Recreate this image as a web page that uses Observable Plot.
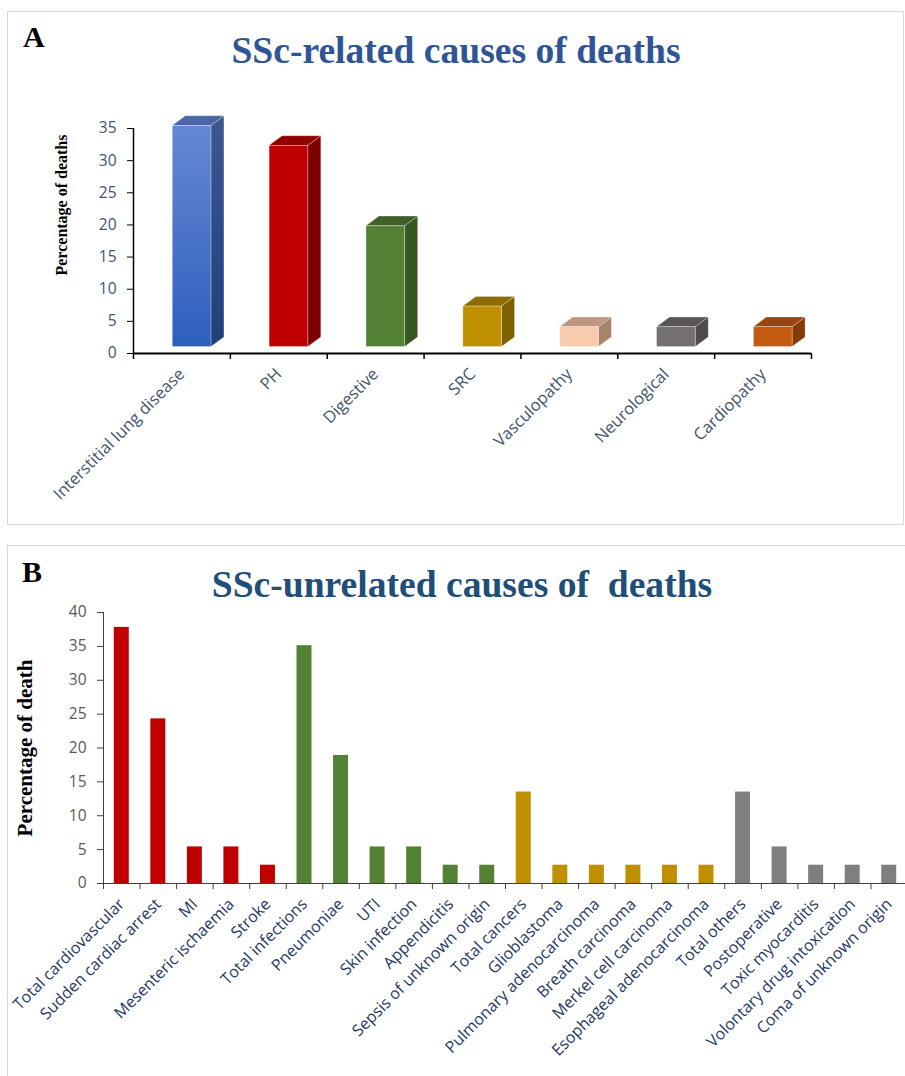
<!DOCTYPE html>
<html><head><meta charset="utf-8">
<script src="https://cdn.jsdelivr.net/npm/d3@7"></script>
<script src="https://cdn.jsdelivr.net/npm/@observablehq/plot@0.6"></script>
<style>
html,body{margin:0;padding:0;background:#fff;}
body{width:905px;height:1076px;overflow:hidden;position:relative;font-family:"Open Sans",sans-serif;}
.panel{position:absolute;box-sizing:border-box;border:1px solid #d9d9d9;}
.abs{position:absolute;white-space:pre;line-height:1;}
.title{font-family:"Liberation Serif","Times New Roman",serif;font-weight:bold;font-size:37.6px;transform:translateX(-50%);}
.letter{font-family:"Liberation Serif","Times New Roman",serif;font-weight:bold;font-size:30px;color:#000;}
.ylab{font-family:"Liberation Serif","Times New Roman",serif;font-weight:bold;color:#000;transform:translate(-50%,-50%) rotate(-90deg);}
.chart{position:absolute;left:0;}
.chart svg{max-width:none !important;overflow:visible;background:transparent !important;}
</style></head><body>
<div class="panel" style="left:7px;top:11px;width:897px;height:514px;"></div>
<div class="panel" style="left:7px;top:545px;width:1000px;height:600px;"></div>
<div class="abs letter" style="left:23px;top:22px;">A</div>
<div class="abs letter" style="left:22px;top:557px;">B</div>
<div class="abs title" style="left:456px;top:32px;color:#2f5597;">SSc-related causes of deaths</div>
<div class="abs title" style="left:462px;top:566px;color:#1f4e79;">SSc-unrelated causes of  deaths</div>
<div class="abs ylab" style="left:62px;top:205px;font-size:16px;">Percentage of deaths</div>
<div class="abs ylab" style="left:25px;top:748px;font-size:21px;">Percentage of death</div>
<div id="chartA" class="chart" style="top:100px;"></div>
<div id="chartB" class="chart" style="top:590px;"></div>
<script>
// ---------- Data: panel A (SSc-related) ----------
const relatedCauses = ["Interstitial lung disease","PH","Digestive","SRC","Vasculopathy","Neurological","Cardiopathy"];
const relatedPct = [34.4, 31.3, 18.8, 6.3, 3.1, 3.1, 3.1];
const relatedTicks = [0, 5, 10, 15, 20, 25, 30, 35];

// ---------- Data: panel B (SSc-unrelated) ----------
const unrelatedCauses = ["Total cardiovascular","Sudden cardiac arrest","MI","Mesenteric ischaemia","Stroke",
  "Total infections","Pneumoniae","UTI","Skin infection","Appendicitis","Sepsis of unknown origin",
  "Total cancers","Glioblastoma","Pulmonary adenocarcinoma","Breath carcinoma","Merkel cell carcinoma","Esophageal adenocarcinoma",
  "Total others","Postoperative","Toxic myocarditis","Volontary drug intoxication","Coma of unknown origin"];
const unrelatedPct = [37.8, 24.3, 5.4, 5.4, 2.7, 35.1, 18.9, 5.4, 5.4, 2.7, 2.7, 13.5, 2.7, 2.7, 2.7, 2.7, 2.7, 13.5, 5.4, 2.7, 2.7, 2.7];
const unrelatedGroup = ["Cardiovascular","Cardiovascular","Cardiovascular","Cardiovascular","Cardiovascular",
  "Infections","Infections","Infections","Infections","Infections","Infections",
  "Cancers","Cancers","Cancers","Cancers","Cancers","Cancers",
  "Others","Others","Others","Others","Others"];
const unrelatedTicks = [0, 5, 10, 15, 20, 25, 30, 35, 40];

// ---------- Styles ----------
const frontFill = ["url(#ildFront)","#c00000","#548235","#bf9000","#f8cbad","#767171","#c55a11"];
const sideFill  = ["url(#ildSide)","#7f0000","#385723","#7f6000","#a6836d","#4f4b4b","#843c0c"];
const topFill   = ["#4a66a6","#900000","#3e6127","#8f6c00","#c09680","#5a5656","#984510"];
const groupColors = {Cardiovascular:"#c00000", Infections:"#548235", Cancers:"#bf9000", Others:"#7f7f7f"};

// 3D geometry parameters (in scale units)
const base3d = 1.0, depthX = 0.134, depthY = 1.5, fx1 = 0.405, fx2 = 0.805;

const relRows = relatedCauses.map((name, i) => ({i, name, v: relatedPct[i]}));
const frontFaces = relRows.map(d => ({i: d.i, x1: d.i + fx1, x2: d.i + fx2, y1: base3d, y2: d.v + base3d, fill: frontFill[d.i]}));
const sideFaces = relRows.flatMap(d => [
  {i: d.i, x: d.i + fx2, y1: base3d, y2: d.v + base3d, fill: sideFill[d.i]},
  {i: d.i, x: d.i + fx2 + depthX, y1: base3d + depthY, y2: d.v + base3d + depthY, fill: sideFill[d.i]}
]);
const topFaces = relRows.flatMap(d => [
  {i: d.i, y: d.v + base3d, x1: d.i + fx1, x2: d.i + fx2, fill: topFill[d.i]},
  {i: d.i, y: d.v + base3d + depthY, x1: d.i + fx1 + depthX, x2: d.i + fx2 + depthX, fill: topFill[d.i]}
]);

const chartA = Plot.plot({
  width: 905, height: 420,
  marginLeft: 133, marginRight: 94, marginTop: 28, marginBottom: 167,
  style: {fontFamily: "'Open Sans', sans-serif", background: "transparent"},
  x: {type: "linear", domain: [0, relatedCauses.length]},
  y: {domain: [0, 35]},
  color: {type: "identity"},
  marks: [
    Plot.areaY(sideFaces, {x: "x", y1: "y1", y2: "y2", z: "i", fill: "fill", stroke: "#ffffff", strokeOpacity: 0.35, strokeWidth: 0.8}),
    Plot.areaX(topFaces, {y: "y", x1: "x1", x2: "x2", z: "i", fill: "fill", stroke: "#ffffff", strokeOpacity: 0.35, strokeWidth: 0.8}),
    Plot.rect(frontFaces, {x1: "x1", x2: "x2", y1: "y1", y2: "y2", fill: "fill", stroke: "#ffffff", strokeOpacity: 0.45, strokeWidth: 0.8}),
    Plot.ruleX([0], {y1: 0, y2: 35, stroke: "#000", strokeWidth: 1.5}),
    Plot.ruleY([0], {stroke: "#000", strokeWidth: 2}),
    Plot.axisY({ticks: relatedTicks, tickSize: 6, tickPadding: 11, fontSize: 15.5, fill: "#44546a", stroke: "#000", label: null}),
    Plot.axisX({ticks: d3.range(relatedCauses.length + 1), tickFormat: () => "", tickSize: 6, stroke: "#000", strokeWidth: 1.5, label: null}),
    Plot.axisX({ticks: d3.range(relatedCauses.length).map(i => i + 0.5), tickFormat: v => relatedCauses[Math.floor(v)],
      tickSize: 0, tickPadding: 18, tickRotate: -45, fontSize: 16.5, fill: "#44546a", label: null})
  ]
});

// gradients for the blue 3D bar
const svgNS = "http://www.w3.org/2000/svg";
function addGrad(svg, id, c1, c2) {
  let defs = svg.querySelector("defs");
  if (!defs) { defs = document.createElementNS(svgNS, "defs"); svg.insertBefore(defs, svg.firstChild); }
  const g = document.createElementNS(svgNS, "linearGradient");
  g.setAttribute("id", id); g.setAttribute("x1", "0"); g.setAttribute("y1", "0"); g.setAttribute("x2", "0"); g.setAttribute("y2", "1");
  [[0, c1], [1, c2]].forEach(([o, c]) => {
    const s = document.createElementNS(svgNS, "stop");
    s.setAttribute("offset", o); s.setAttribute("stop-color", c); g.appendChild(s);
  });
  defs.appendChild(g);
}
addGrad(chartA, "ildFront", "#6688d4", "#2e5fbd");
addGrad(chartA, "ildSide", "#3d5890", "#1f3f7e");
document.getElementById("chartA").appendChild(chartA);

// ---------- Panel B ----------
const unrelRows = unrelatedCauses.map((name, i) => ({i, name, v: unrelatedPct[i], g: unrelatedGroup[i]}));
const chartB = Plot.plot({
  width: 907, height: 480,
  marginLeft: 103, marginRight: 0, marginTop: 22, marginBottom: 187,
  style: {fontFamily: "'Open Sans', sans-serif", background: "transparent"},
  x: {type: "linear", domain: [0, unrelatedCauses.length]},
  y: {domain: [0, 40]},
  color: {type: "identity"},
  marks: [
    Plot.rect(unrelRows, {x1: d => d.i + 0.295, x2: d => d.i + 0.705, y1: 0, y2: "v", fill: d => groupColors[d.g]}),
    Plot.ruleX([0], {y1: 0, y2: 40, stroke: "#404040", strokeWidth: 1}),
    Plot.ruleY([0], {stroke: "#404040", strokeWidth: 1.2}),
    Plot.axisY({ticks: unrelatedTicks, tickSize: 6, tickPadding: 11, fontSize: 15.5, fill: "#595959", stroke: "#404040", label: null}),
    Plot.axisX({ticks: d3.range(unrelatedCauses.length + 1), tickFormat: () => "", tickSize: 6, stroke: "#404040", label: null}),
    Plot.axisX({ticks: d3.range(unrelatedCauses.length).map(i => i + 0.5), tickFormat: v => unrelatedCauses[Math.floor(v)],
      tickSize: 0, tickPadding: 18, tickRotate: -45, fontSize: 16, fill: "#1f3864", label: null})
  ]
});
document.getElementById("chartB").appendChild(chartB);
</script>
</body></html>
